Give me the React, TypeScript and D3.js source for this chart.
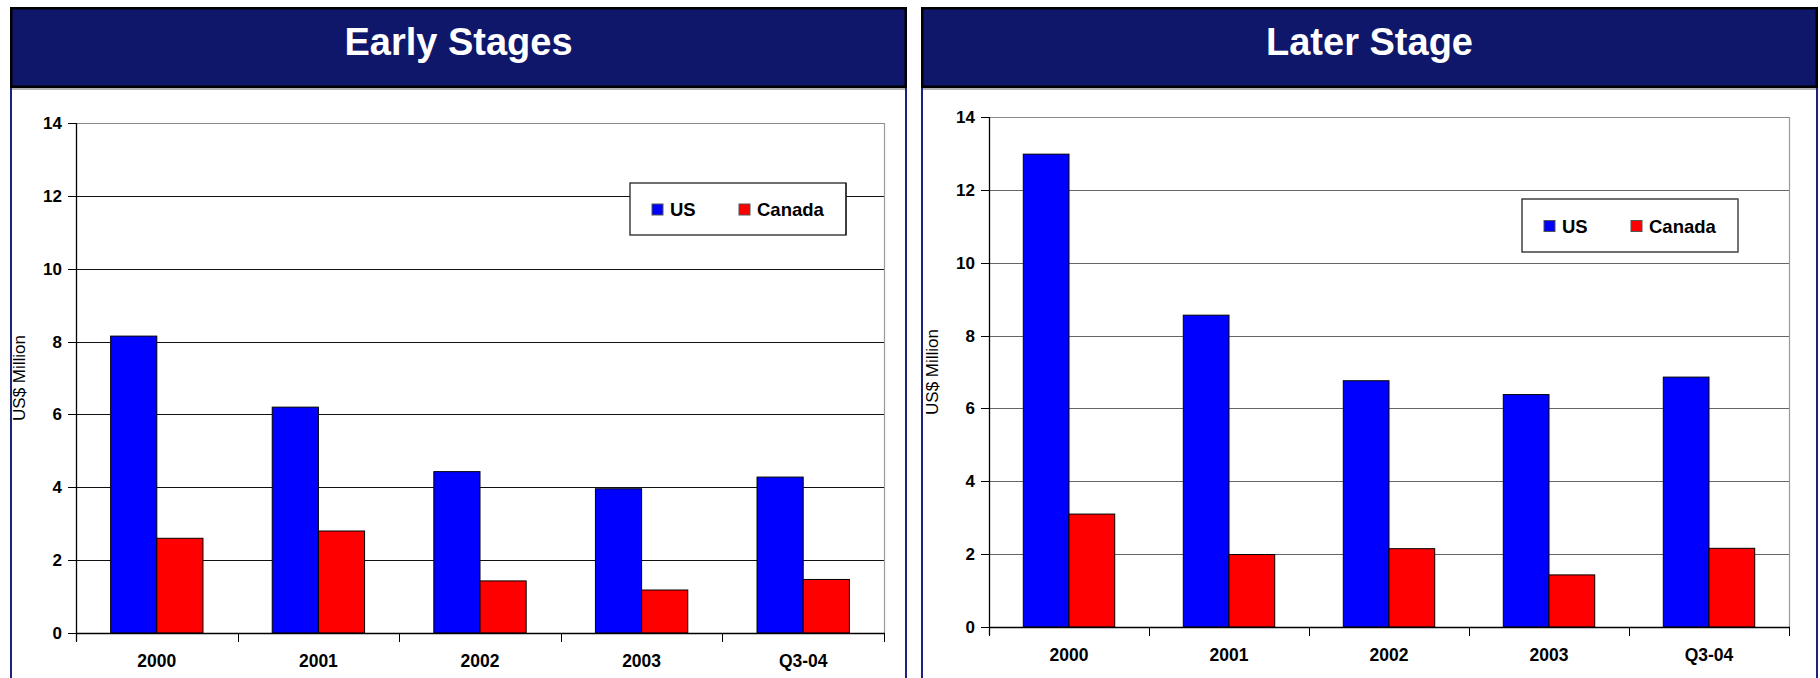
import React from "react";
import * as d3 from "d3";

const categories = ["2000", "2001", "2002", "2003", "Q3-04"];
const seriesNames = ["US", "Canada"];
const seriesColors = ["#0000ff", "#ff0000"];
const earlyUS = [8.15, 6.2, 4.43, 3.96, 4.28];
const earlyCanada = [2.6, 2.8, 1.43, 1.18, 1.47];
const laterUS = [12.98, 8.56, 6.76, 6.38, 6.86];
const laterCanada = [3.1, 1.99, 2.15, 1.43, 2.16];
const yTicks = [0, 2, 4, 6, 8, 10, 12, 14];
const titles = ["Early Stages", "Later Stage"];
const yAxisTitle = "US$ Million";

const FONT = "'Liberation Sans', Arial, Helvetica, sans-serif";

type PanelProps = {
  title: string;
  us: number[];
  canada: number[];
  px: number;
  pw: number;
  plot: { x0: number; x1: number; y0: number; y1: number };
  legend: { x: number; y: number; w: number; h: number };
  gridColor: string;
  yLabelX: number;
  legendRightStroke: string;
};

function Panel(p: PanelProps) {
  const x = d3.scaleBand<string>().domain(categories).range([p.plot.x0, p.plot.x1]);
  const y = d3.scaleLinear().domain([0, 14]).range([p.plot.y1, p.plot.y0]);
  const bw = x.bandwidth() / 3.5;
  const sub = d3.scaleBand<string>().domain(seriesNames).range([0, bw * 2]);
  const data = [p.us, p.canada];
  const yMid = (p.plot.y0 + p.plot.y1) / 2;
  const lg = p.legend;
  return (
    <g>
      <rect x={p.px} y={88} width={p.pw} height={600} fill="#fff" />
      <line x1={p.px + 1} x2={p.px + 1} y1={88} y2={678} stroke="#1c237a" strokeWidth={2} />
      <line x1={p.px + p.pw - 1} x2={p.px + p.pw - 1} y1={88} y2={678} stroke="#1c237a" strokeWidth={2} />
      <rect x={p.px + 1.25} y={8.25} width={p.pw - 2.5} height={78.5} fill="#0f176b" stroke="#000" strokeWidth={2.5} />
      <line x1={p.px + 2} x2={p.px + p.pw - 2} y1={89} y2={89} stroke="#9a9a9a" strokeWidth={1.5} />
      <text x={p.px + p.pw / 2} y={55} textAnchor="middle" fill="#fff" fontFamily={FONT} fontWeight="bold" fontSize={38}>
        {p.title}
      </text>
      {yTicks.filter((t) => t > 0 && t < 14).map((t) => (
        <line key={t} x1={p.plot.x0} x2={p.plot.x1} y1={Math.round(y(t)) + 0.5} y2={Math.round(y(t)) + 0.5} stroke={p.gridColor} strokeWidth={1} />
      ))}
      <line x1={p.plot.x0} x2={p.plot.x1} y1={p.plot.y0 + 0.5} y2={p.plot.y0 + 0.5} stroke="#8a8a8a" strokeWidth={1} />
      <line x1={p.plot.x1 + 0.5} x2={p.plot.x1 + 0.5} y1={p.plot.y0} y2={p.plot.y1} stroke="#9a9a9a" strokeWidth={1.2} />
      {data.map((vals, si) =>
        vals.map((v, ci) => {
          const bx = (x(categories[ci]) as number) + (x.bandwidth() - bw * 2) / 2 + (sub(seriesNames[si]) as number);
          return (
            <rect key={si + "-" + ci} x={bx} y={y(v)} width={bw} height={y(0) - y(v)} fill={seriesColors[si]} stroke="#000" strokeWidth={1} />
          );
        })
      )}
      <line x1={p.plot.x0 + 0.5} x2={p.plot.x0 + 0.5} y1={p.plot.y0} y2={p.plot.y1 + 8} stroke="#000" strokeWidth={1.3} />
      {yTicks.map((t) => (
        <g key={t}>
          <line x1={p.plot.x0 - 8} x2={p.plot.x0} y1={Math.round(y(t)) + 0.5} y2={Math.round(y(t)) + 0.5} stroke="#000" strokeWidth={1} />
          <text x={p.plot.x0 - 14} y={y(t) + 6} textAnchor="end" fontFamily={FONT} fontWeight="bold" fontSize={17} fill="#000">
            {t}
          </text>
        </g>
      ))}
      <line x1={p.plot.x0} x2={p.plot.x1 + 1} y1={y(0) + 0.5} y2={y(0) + 0.5} stroke="#000" strokeWidth={1.3} />
      {categories.map((c, i) => (
        <line key={"t" + i} x1={Math.round(x(c) as number) + 0.5} x2={Math.round(x(c) as number) + 0.5} y1={y(0)} y2={y(0) + 9} stroke="#000" strokeWidth={1} />
      ))}
      <line x1={p.plot.x1 + 0.5} x2={p.plot.x1 + 0.5} y1={y(0)} y2={y(0) + 9} stroke="#000" strokeWidth={1} />
      {categories.map((c) => (
        <text key={"l" + c} x={(x(c) as number) + x.bandwidth() / 2} y={y(0) + 34} textAnchor="middle" fontFamily={FONT} fontWeight="bold" fontSize={17.5} fill="#000">
          {c}
        </text>
      ))}
      <text transform={`translate(${p.yLabelX},${yMid}) rotate(-90)`} textAnchor="middle" fontFamily={FONT} fontSize={17} fill="#000">
        {yAxisTitle}
      </text>
      <rect x={lg.x} y={lg.y} width={lg.w} height={lg.h} fill="#fff" stroke="#222" strokeWidth={1.3} />
      <line x1={lg.x + lg.w} x2={lg.x + lg.w} y1={lg.y} y2={lg.y + lg.h} stroke={p.legendRightStroke} strokeWidth={1.3} />
      {seriesNames.map((s, i) => {
        const ox = lg.x + 22 + i * 87;
        const cy = lg.y + lg.h / 2 + 0.5;
        return (
          <g key={s}>
            <rect x={ox} y={cy - 5.5} width={11} height={11} fill={seriesColors[i]} stroke="#555" strokeWidth={1} />
            <text x={ox + 18} y={cy + 6.5} fontFamily={FONT} fontWeight="bold" fontSize={18.5} fill="#000">
              {s}
            </text>
          </g>
        );
      })}
    </g>
  );
}

export default function App() {
  return (
    <svg width={1820} height={678} style={{ position: "absolute", left: 0, top: 0, background: "#fff" }}>
      <rect width={1820} height={678} fill="#fff" />
      <Panel
        title={titles[0]}
        us={earlyUS}
        canada={earlyCanada}
        px={10}
        pw={897}
        plot={{ x0: 76, x1: 884, y0: 123, y1: 633 }}
        legend={{ x: 630, y: 183, w: 216, h: 52 }}
        gridColor="#111"
        yLabelX={25}
        legendRightStroke="#222"
      />
      <Panel
        title={titles[1]}
        us={laterUS}
        canada={laterCanada}
        px={921}
        pw={897}
        plot={{ x0: 989, x1: 1789, y0: 117, y1: 627 }}
        legend={{ x: 1522, y: 199, w: 216, h: 53 }}
        gridColor="#666"
        yLabelX={938}
        legendRightStroke="#777"
      />
    </svg>
  );
}
